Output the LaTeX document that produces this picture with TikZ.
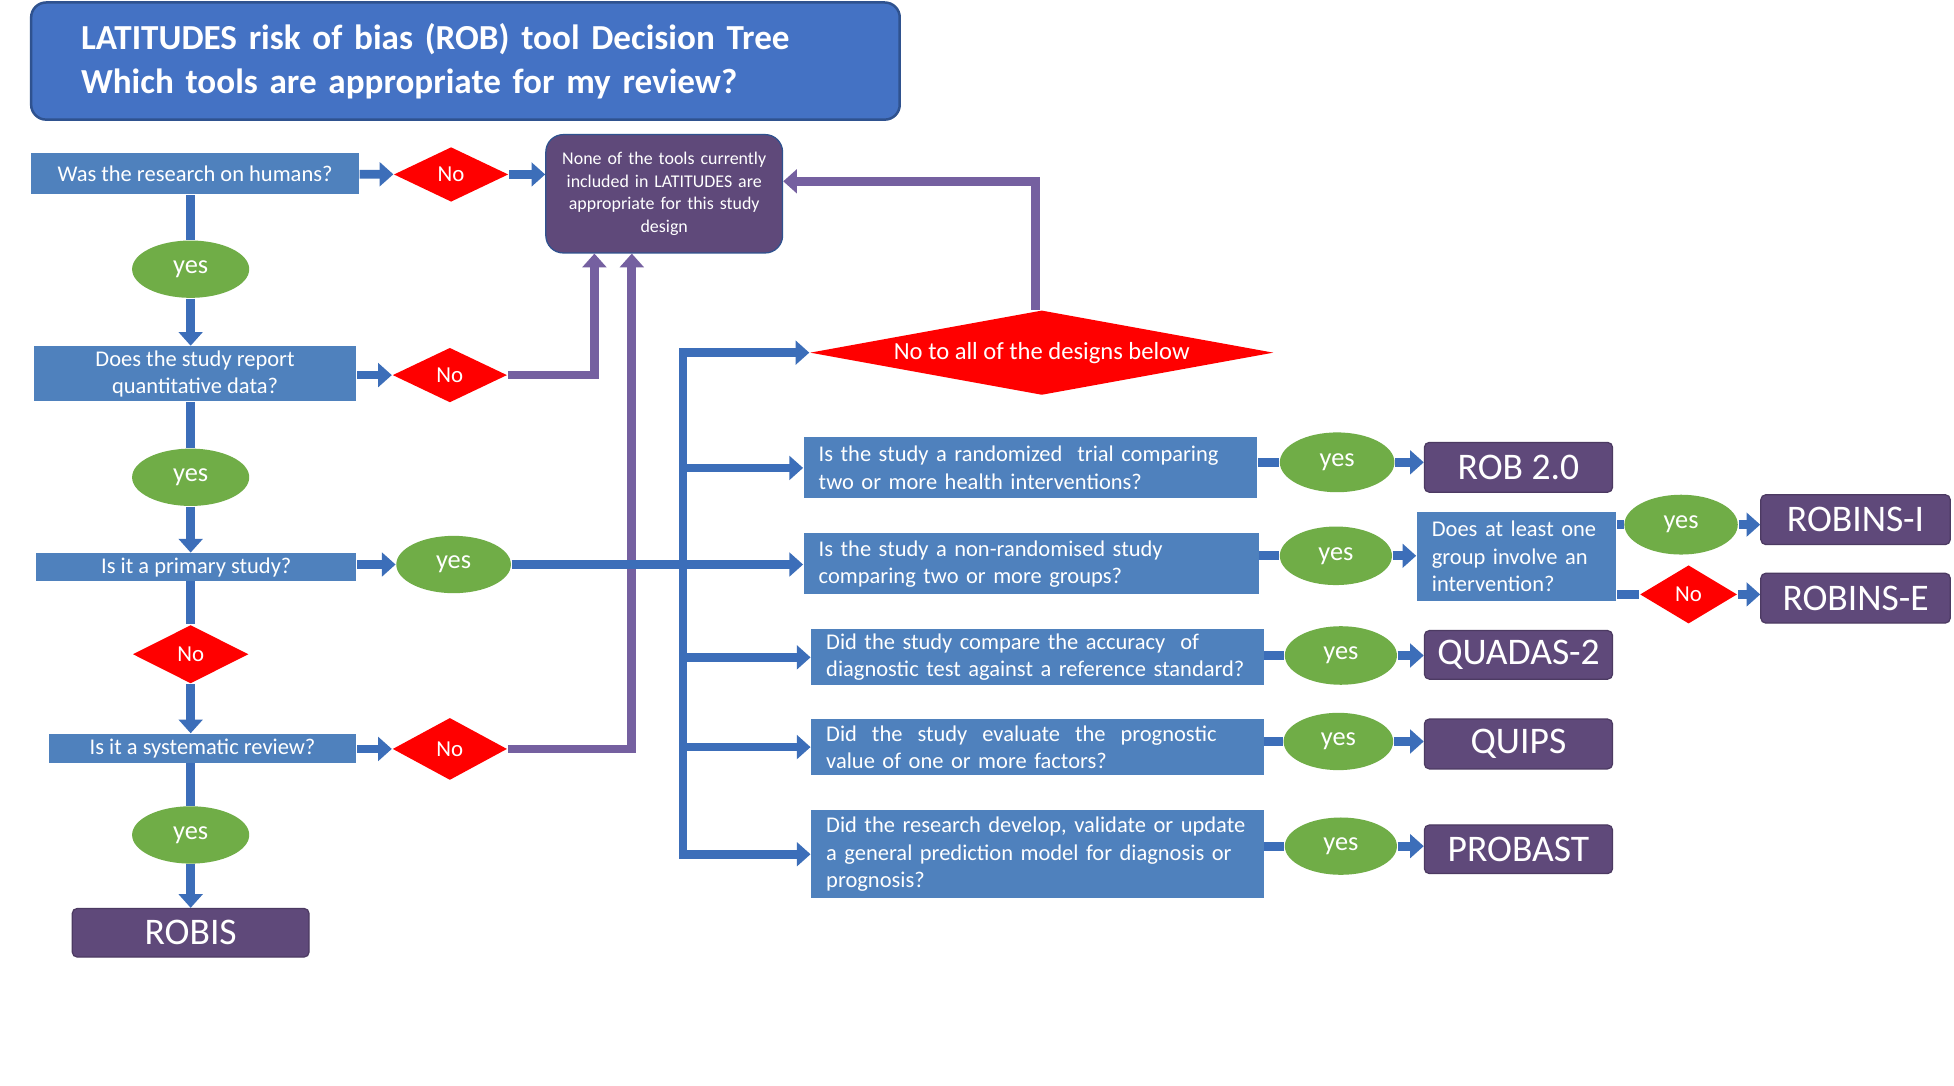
\documentclass[tikz,border=0pt]{standalone}
\usepackage{fontspec}
\setmainfont{Carlito}
\usetikzlibrary{shapes.geometric}
\usetikzlibrary{arrows.meta}

\definecolor{titleblue}{HTML}{4472C4}
\definecolor{titleedge}{HTML}{2F528F}
\definecolor{qblue}{HTML}{4F81BD}
\definecolor{lineblue}{HTML}{3C6EB9}
\definecolor{toolpurple}{HTML}{5F497A}
\definecolor{linepurple}{HTML}{7560A0}
\definecolor{yesgreen}{HTML}{70AD47}

\newlength\px
\setlength\px{0.012462cm}

\tikzset{
qbox/.style={rectangle,fill=qblue,text=white,inner sep=0pt,align=center,font=\fontsize{6.4}{7.8}\selectfont},
qleft/.style={qbox,align=left,inner xsep=12\px},
toolbox/.style={rectangle,rounded corners=4\px,fill=toolpurple,draw=toolpurple!80!black,line width=1\px,text=white,inner sep=0pt,font=\fontsize{10.7}{12}\selectfont},
yesnode/.style={ellipse,fill=yesgreen,text=white,inner sep=0pt,font=\fontsize{7.5}{9}\selectfont},
nonode/.style={diamond,fill=red,text=white,inner sep=0pt,font=\fontsize{6.5}{8}\selectfont},
bline/.style={draw=lineblue,line width=7\px},
barrow/.style={bline,-{Triangle[length=3.9pt,width=6.7pt]}},
parrow/.style={draw=linepurple,line width=7\px,-{Triangle[length=3.9pt,width=6.7pt]}},
}

\begin{document}
\begin{tikzpicture}[x=0.012462cm,y=-0.012462cm]
\useasboundingbox[fill=white] (0,0) rectangle (1568,871);

\node[rectangle,rounded corners=12\px,fill=titleblue,draw=titleedge,line width=2\px,text=white,minimum width=697\px,minimum height=94\px,inner xsep=40\px,text width=617\px,align=left,font=\fontsize{10}{12.7}\selectfont\bfseries] (title) at (373.5,49) {LATITUDES risk of bias (ROB) tool Decision Tree\\Which tools are appropriate for my review?};

\node[qbox,minimum width=263\px,minimum height=33\px] (qhum) at (156.5,139.5) {Was the research on humans?};
\node[nonode,minimum width=92\px,minimum height=44\px] (nohum) at (362,140) {No};
\node[rectangle,rounded corners=14\px,fill=toolpurple,draw=titleedge,line width=1\px,text=white,minimum width=190\px,minimum height=95\px,text width=180\px,align=center,inner sep=0pt,font=\fontsize{5.1}{6.4}\selectfont] (none) at (533,155.5) {None of the tools currently\\included in LATITUDES are\\appropriate for this study\\design};
\node[yesnode,minimum width=94\px,minimum height=46\px] (yeshum) at (153,216) {yes};
\node[qbox,minimum width=259\px,minimum height=44\px] (qquant) at (156.5,300) {Does the study report\\quantitative data?};
\node[nonode,minimum width=92\px,minimum height=44\px] (noquant) at (361,301) {No};
\node[yesnode,minimum width=94\px,minimum height=46\px] (yesquant) at (153,383) {yes};
\node[qbox,minimum width=257\px,minimum height=22\px] (qprim) at (157.5,455) {Is it a primary study?};
\node[yesnode,minimum width=92\px,minimum height=46\px] (yesprim) at (364,453) {yes};
\node[nonode,minimum width=93\px,minimum height=47\px] (noprim) at (153,525) {No};
\node[qbox,minimum width=247\px,minimum height=23\px] (qsys) at (162.5,600.5) {Is it a systematic review?};
\node[nonode,minimum width=92\px,minimum height=50\px] (nosys) at (361,601) {No};
\node[yesnode,minimum width=94\px,minimum height=46\px] (yessys) at (153,670) {yes};
\node[toolbox,minimum width=190\px,minimum height=39\px] (robis) at (153,748.5) {ROBIS};

\node[diamond,aspect=5.47,fill=red,text=white,inner sep=0pt,minimum width=372\px,minimum height=68\px,font=\fontsize{7}{8.4}\selectfont] (noall) at (836,283) {No to all of the designs below};

\node[qleft,minimum width=364\px,minimum height=49\px,text width=340\px] (qrand) at (827,375.5) {Is the study a randomized~ trial comparing\\two or more health interventions?};
\node[yesnode,minimum width=92\px,minimum height=48\px] (yesrand) at (1073,371) {yes};
\node[toolbox,minimum width=151\px,minimum height=40\px] (rob) at (1218.5,375) {ROB 2.0};

\node[qleft,minimum width=365\px,minimum height=49\px,text width=341\px] (qnonrand) at (827.5,452.5) {Is the study a non-randomised study\\comparing two or more groups?};
\node[yesnode,minimum width=90\px,minimum height=47\px] (yesnonrand) at (1072,446) {yes};
\node[qleft,minimum width=160\px,minimum height=71\px,text width=136\px] (qinterv) at (1217,446.5) {Does at least one\\group involve an\\intervention?};
\node[yesnode,minimum width=91\px,minimum height=48\px] (yesinterv) at (1349,421) {yes};
\node[toolbox,minimum width=152\px,minimum height=40\px] (robinsi) at (1489,417) {ROBINS-I};
\node[nonode,minimum width=78\px,minimum height=47\px] (nointerv) at (1355,477) {No};
\node[toolbox,minimum width=152\px,minimum height=40\px] (robinse) at (1489,480) {ROBINS-E};

\node[qleft,minimum width=363\px,minimum height=45\px,text width=339\px] (qdiag) at (832.5,527.5) {Did the study compare the accuracy~ of\\diagnostic test against a reference standard?};
\node[yesnode,minimum width=90\px,minimum height=47\px] (yesdiag) at (1076,526) {yes};
\node[toolbox,minimum width=151\px,minimum height=39\px] (quadas) at (1218.5,525.5) {QUADAS-2};

\node[qleft,minimum width=363\px,minimum height=45\px,text width=339\px] (qprog) at (832.5,599.5) {Did~ the~ study~ evaluate~ the~ prognostic\\value of one or more factors?};
\node[yesnode,minimum width=88\px,minimum height=46\px] (yesprog) at (1074,595) {yes};
\node[toolbox,minimum width=151\px,minimum height=40\px] (quips) at (1218.5,597) {QUIPS};

\node[qleft,minimum width=363\px,minimum height=71\px,text width=339\px] (qpred) at (832.5,685.5) {Did the research develop, validate or update\\a general prediction model for diagnosis or\\prognosis?};
\node[yesnode,minimum width=90\px,minimum height=46\px] (yespred) at (1076,679) {yes};
\node[toolbox,minimum width=151\px,minimum height=39\px] (probast) at (1218.5,681.5) {PROBAST};

\coordinate (bus) at (548,451);

\draw[barrow] (qhum) -- (nohum);
\draw[barrow] (nohum) -- (nohum -| none.west);
\draw[bline] (yeshum |- qhum.south) -- (yeshum);
\draw[barrow] (yeshum) -- (yeshum |- qquant.north);
\draw[barrow] (qquant.east |- noquant) -- (noquant);
\draw[bline] (yesquant |- qquant.south) -- (yesquant);
\draw[barrow] (yesquant) -- (yesquant |- qprim.north);
\draw[barrow] (qprim.east |- yesprim) -- (yesprim);
\draw[bline] (noprim |- qprim.south) -- (noprim);
\draw[barrow] (noprim) -- (noprim |- qsys.north);
\draw[barrow] (qsys.east |- nosys) -- (nosys);
\draw[bline] (yessys |- qsys.south) -- (yessys);
\draw[barrow] (yessys) -- (robis);

\draw[parrow] (noquant.east) -| ([xshift=-56\px]none.south);
\draw[parrow] (nosys.east) -| ([xshift=-26\px]none.south);
\draw[parrow] ([xshift=-5\px]noall.north) |- ([yshift=10\px]none.east);

\draw[barrow] (yesprim) -- (yesprim -| qnonrand.west);
\draw[bline,line cap=rect] (bus |- noall) -- (bus |- qpred);
\draw[barrow] (bus |- noall) -- (noall.west);
\draw[barrow] (bus |- qrand) -- (qrand.west);
\draw[barrow] (bus |- qdiag) -- (qdiag.west);
\draw[barrow] (bus |- qprog) -- (qprog.west);
\draw[barrow] (bus |- qpred) -- (qpred.west);

\draw[bline] (qrand.east |- yesrand) -- (yesrand);
\draw[barrow] (yesrand) -- (yesrand -| rob.west);
\draw[bline] (qnonrand.east |- yesnonrand) -- (yesnonrand);
\draw[barrow] (yesnonrand) -- (yesnonrand -| qinterv.west);
\draw[bline] (qinterv.east |- yesinterv) -- (yesinterv);
\draw[barrow] (yesinterv) -- (yesinterv -| robinsi.west);
\draw[bline] (qinterv.east |- nointerv) -- (nointerv);
\draw[barrow] (nointerv) -- (nointerv -| robinse.west);
\draw[bline] (qdiag.east |- yesdiag) -- (yesdiag);
\draw[barrow] (yesdiag) -- (yesdiag -| quadas.west);
\draw[bline] (qprog.east |- yesprog) -- (yesprog);
\draw[barrow] (yesprog) -- (yesprog -| quips.west);
\draw[bline] (qpred.east |- yespred) -- (yespred);
\draw[barrow] (yespred) -- (yespred -| probast.west);

\end{tikzpicture}
\end{document}
